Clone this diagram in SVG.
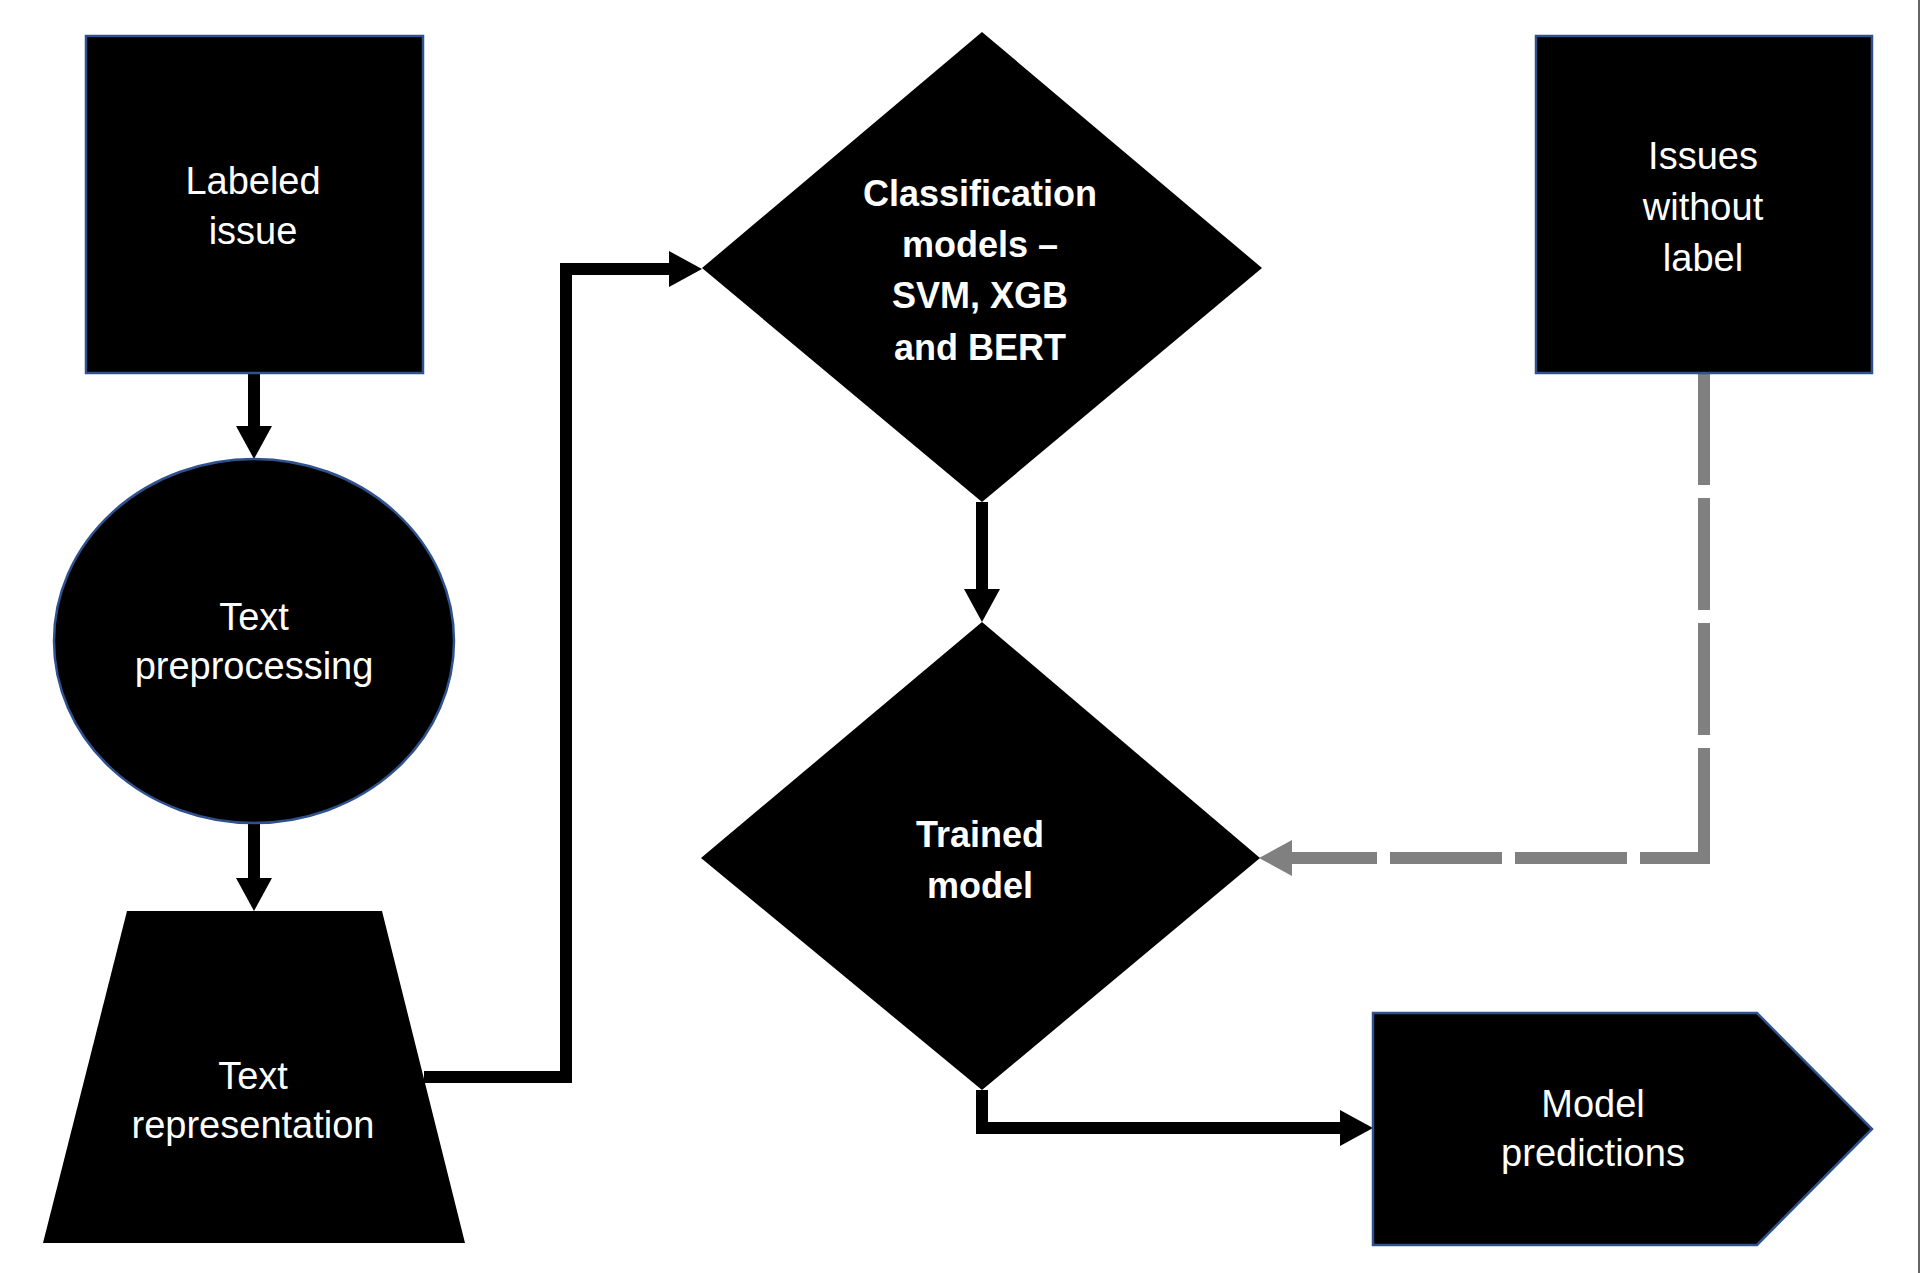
<svg xmlns="http://www.w3.org/2000/svg" width="1920" height="1273" viewBox="0 0 1920 1273">
<style>
.node{fill:#000;}
.blue{stroke:#2F528F;stroke-width:2.5;}
.t{font-family:"Liberation Sans",Arial,sans-serif;font-size:38px;fill:#fff;text-anchor:middle;}
.b{font-family:"Liberation Sans",Arial,sans-serif;font-size:36px;font-weight:bold;fill:#fff;text-anchor:middle;}
.conn{fill:none;stroke:#000;stroke-width:12;stroke-linejoin:miter;stroke-linecap:butt;}
.dash{fill:none;stroke:#808080;stroke-width:12;stroke-dasharray:112 13;stroke-linejoin:miter;}
</style>
<defs>
<marker id="ah" markerUnits="userSpaceOnUse" viewBox="0 0 33 36" markerWidth="33" markerHeight="36" refX="0" refY="18" orient="auto">
<path d="M0,0 L33,18 L0,36 Z" fill="#000"/>
</marker>
<marker id="ahg" markerUnits="userSpaceOnUse" viewBox="0 0 33 36" markerWidth="33" markerHeight="36" refX="0" refY="18" orient="auto">
<path d="M0,0 L33,18 L0,36 Z" fill="#808080"/>
</marker>
</defs>
<rect x="0" y="0" width="1920" height="1273" fill="#fff"/>
<line x1="1919" y1="0" x2="1919" y2="1273" stroke="#333" stroke-width="1.5"/>

<g id="connectors">
<path class="conn" d="M254,373 V426" marker-end="url(#ah)"/>
<path class="conn" d="M254,823 V878" marker-end="url(#ah)"/>
<path class="conn" d="M424,1077 H566 V269 H669" marker-end="url(#ah)"/>
<path class="conn" d="M982,502 V589" marker-end="url(#ah)"/>
<path class="conn" d="M982,1090 V1128 H1340" marker-end="url(#ah)"/>
<path class="dash" d="M1704,373 V858"/>
<path class="dash" d="M1710,858 H1292" style="stroke-dashoffset:42" marker-end="url(#ahg)"/>
</g>

<g id="labeled-issue">
<rect class="node blue" x="86" y="36" width="337" height="337"/>
<text class="t" x="253" y="194">Labeled</text>
<text class="t" x="253" y="244">issue</text>
</g>

<g id="text-preprocessing">
<ellipse class="node blue" cx="254" cy="641" rx="200" ry="182"/>
<text class="t" x="254" y="630">Text</text>
<text class="t" x="254" y="679">preprocessing</text>
</g>

<g id="text-representation">
<polygon class="node" points="127,911 382,911 465,1243 43,1243"/>
<text class="t" x="253" y="1089">Text</text>
<text class="t" x="253" y="1138">representation</text>
</g>

<g id="classification-models">
<polygon class="node" points="982,32 1262,268 982,502 702,268"/>
<text class="b" x="980" y="206">Classification</text>
<text class="b" x="980" y="257">models –</text>
<text class="b" x="980" y="308">SVM, XGB</text>
<text class="b" x="980" y="360">and BERT</text>
</g>

<g id="trained-model">
<polygon class="node" points="982,622 1260,858 982,1090 701,858"/>
<text class="b" x="980" y="847">Trained</text>
<text class="b" x="980" y="898">model</text>
</g>

<g id="issues-without-label">
<rect class="node blue" x="1536" y="36" width="336" height="337"/>
<text class="t" x="1703" y="169">Issues</text>
<text class="t" x="1703" y="220">without</text>
<text class="t" x="1703" y="271">label</text>
</g>

<g id="model-predictions">
<polygon class="node blue" points="1373,1013 1757,1013 1872,1129 1757,1245 1373,1245"/>
<text class="t" x="1593" y="1117">Model</text>
<text class="t" x="1593" y="1166">predictions</text>
</g>
</svg>
